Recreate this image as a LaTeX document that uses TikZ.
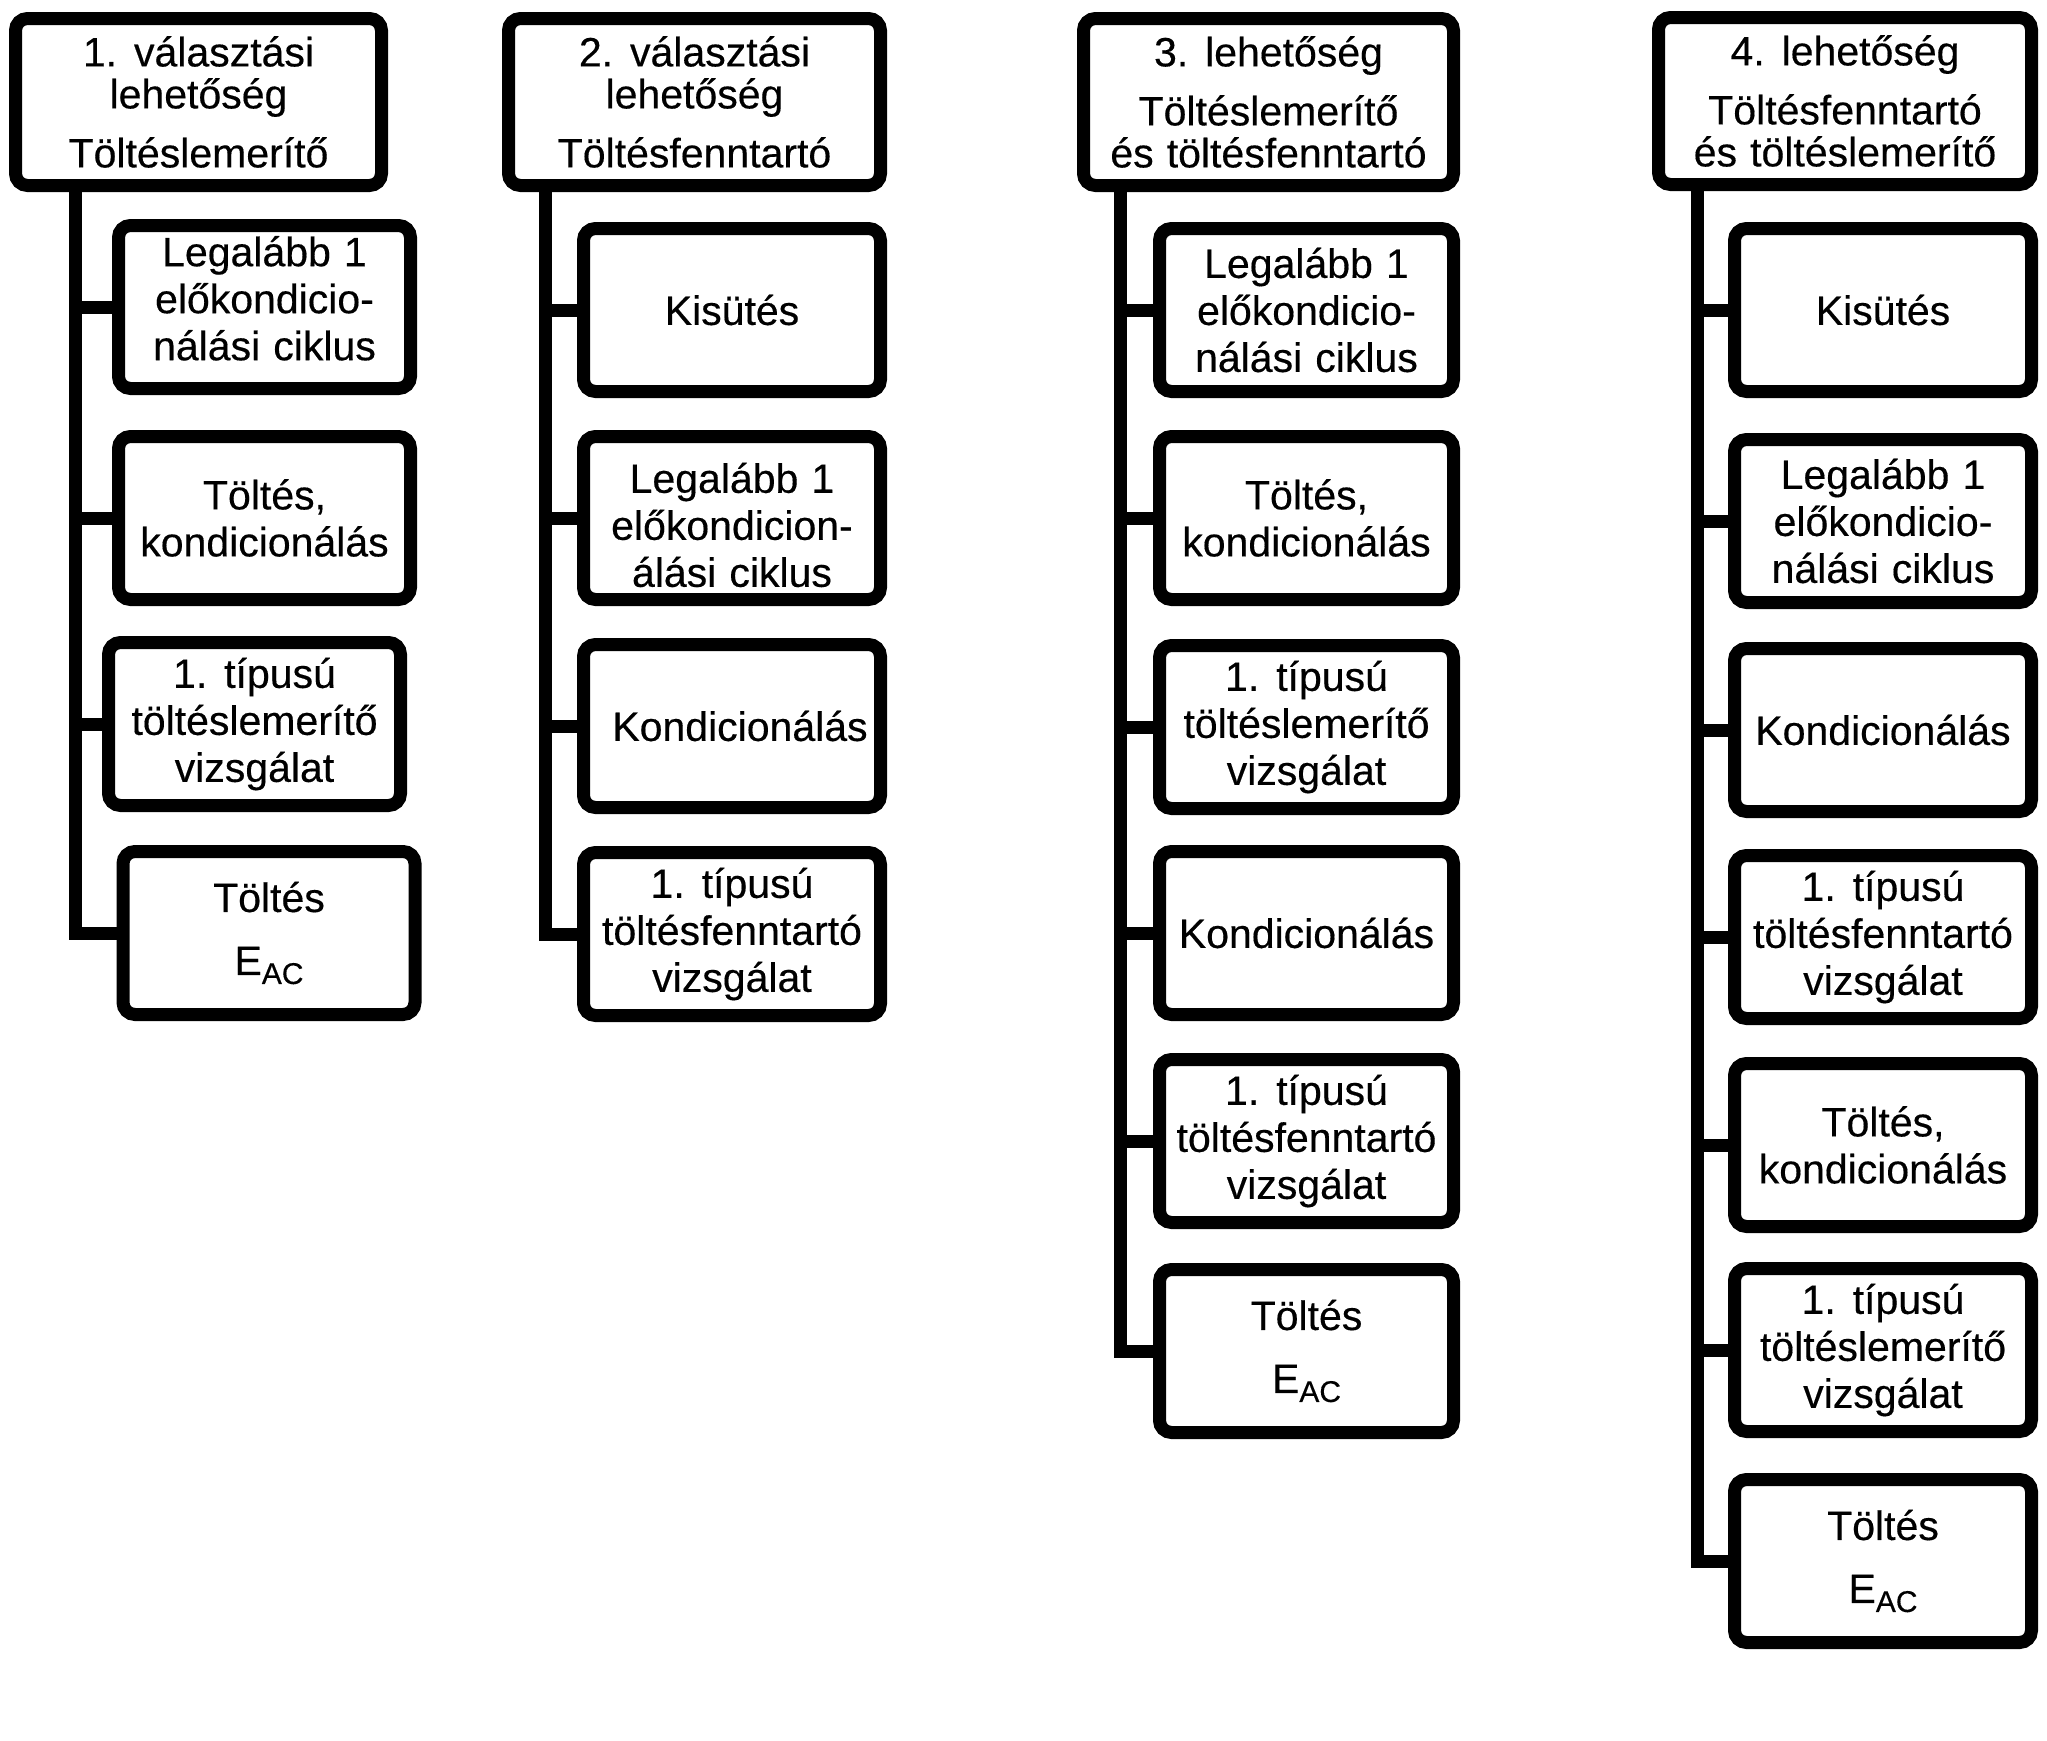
\documentclass[tikz,border=0pt]{standalone}
\usepackage{fontspec}
\setmainfont{Liberation Sans}[WordSpace={1.15},FakeBold=0.35]
\newcommand{\eacsub}{E\raisebox{-4.5pt}{\fontsize{15}{15}\selectfont AC}}
\newcommand{\shiftedlines}[2]{\raisebox{#1}[\height][\depth]{\begin{tabular}{@{}c@{}}#2\end{tabular}}}
\begin{document}
\begin{tikzpicture}[x=0.5pt,y=-0.5pt,
  box/.style={draw=black, line width=6.5pt, rounded corners=6pt, fill=white,
    inner sep=0pt, align=center, minimum height=81.5pt,
    font=\fontsize{20.5}{23.5}\selectfont},
  hbox/.style={box, minimum height=83.5pt, font=\fontsize{20.5}{21}\selectfont},
  link/.style={line width=6.5pt, line join=miter, line cap=butt}]
\path[fill=white] (0,0) rectangle (2047,1741);
\useasboundingbox (0,0) rectangle (2047,1741);

% ---------- column 1 ----------
\node[hbox, minimum width=183pt] (h1) at (198.5,102) {1. választási\\lehetőség\\[8.5pt]Töltéslemerítő};
\node[box, minimum width=146pt] (a1) at (264.5,307) {\shiftedlines{1.6pt}{Legalább 1\\előkondicio-\\nálási ciklus}};
\node[box, minimum width=146pt] (a2) at (264.5,518) {Töltés,\\kondicionálás};
\node[box, minimum width=146pt] (a3) at (254.5,724) {1. típusú\\töltéslemerítő\\vizsgálat};
\node[box, minimum width=146pt] (a4) at (269,933) {Töltés\\[8pt]\eacsub};
\coordinate (ta) at (75,0);
\draw[link] (h1.south -| ta) |- (a4.west);
\foreach \n in {a1,a2,a3} \draw[link] (\n.west -| ta) -- (\n.west);

% ---------- column 2 ----------
\node[hbox, minimum width=186pt] (h2) at (694.5,102) {2. választási\\lehetőség\\[8.5pt]Töltésfenntartó};
\node[box, minimum width=148.5pt] (b1) at (732,310) {Kisütés};
\node[box, minimum width=148.5pt] (b2) at (732,518) {\shiftedlines{-6.2pt}{Legalább 1\\előkondicion-\\álási ciklus}};
\node[box, minimum width=148.5pt] (b3) at (732,726) {\hspace*{8pt}Kondicionálás};
\node[box, minimum width=148.5pt] (b4) at (732,934) {1. típusú\\töltésfenntartó\\vizsgálat};
\coordinate (tb) at (545,0);
\draw[link] (h2.south -| tb) |- (b4.west);
\foreach \n in {b1,b2,b3} \draw[link] (\n.west -| tb) -- (\n.west);

% ---------- column 3 ----------
\node[hbox, minimum width=185pt] (h3) at (1268.5,102) {3. lehetőség\\[8.5pt]Töltéslemerítő\\és töltésfenntartó};
\node[box, minimum width=147pt] (c1) at (1306.5,310) {Legalább 1\\előkondicio-\\nálási ciklus};
\node[box, minimum width=147pt] (c2) at (1306.5,518) {Töltés,\\kondicionálás};
\node[box, minimum width=147pt] (c3) at (1306.5,727) {1. típusú\\töltéslemerítő\\vizsgálat};
\node[box, minimum width=147pt] (c4) at (1306.5,933) {Kondicionálás};
\node[box, minimum width=147pt] (c5) at (1306.5,1141) {1. típusú\\töltésfenntartó\\vizsgálat};
\node[box, minimum width=147pt] (c6) at (1306.5,1351) {Töltés\\[8pt]\eacsub};
\coordinate (tc) at (1120,0);
\draw[link] (h3.south -| tc) |- (c6.west);
\foreach \n in {c1,c2,c3,c4,c5} \draw[link] (\n.west -| tc) -- (\n.west);

% ---------- column 4 ----------
\node[hbox, minimum width=186.5pt] (h4) at (1845,101) {4. lehetőség\\[8.5pt]Töltésfenntartó\\és töltéslemerítő};
\node[box, minimum width=148.5pt] (d1) at (1883,310) {Kisütés};
\node[box, minimum width=148.5pt] (d2) at (1883,521) {Legalább 1\\előkondicio-\\nálási ciklus};
\node[box, minimum width=148.5pt] (d3) at (1883,730) {Kondicionálás};
\node[box, minimum width=148.5pt] (d4) at (1883,937) {1. típusú\\töltésfenntartó\\vizsgálat};
\node[box, minimum width=148.5pt] (d5) at (1883,1145) {Töltés,\\kondicionálás};
\node[box, minimum width=148.5pt] (d6) at (1883,1350) {1. típusú\\töltéslemerítő\\vizsgálat};
\node[box, minimum width=148.5pt] (d7) at (1883,1561) {Töltés\\[8pt]\eacsub};
\coordinate (td) at (1697,0);
\draw[link] (h4.south -| td) |- (d7.west);
\foreach \n in {d1,d2,d3,d4,d5,d6} \draw[link] (\n.west -| td) -- (\n.west);
\end{tikzpicture}
\end{document}
